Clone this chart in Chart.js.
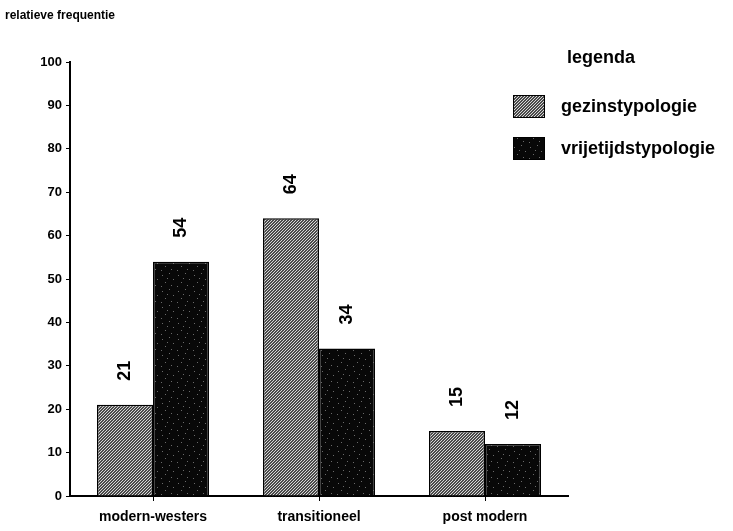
<!DOCTYPE html>
<html>
<head>
<meta charset="utf-8">
<script src="https://cdn.jsdelivr.net/npm/chart.js@4"></script>
<style>
  html, body { margin: 0; padding: 0; background: #fff; }
  #wrap { position: relative; width: 733px; height: 531px; }
</style>
</head>
<body>
<div id="wrap"><canvas id="chart" width="733" height="531"></canvas></div>
<script>
// gegevens
const categories = ['modern-westers', 'transitioneel', 'post modern'];
const seriesNames = ['gezinstypologie', 'vrijetijdstypologie'];
const gezinsValues = [21, 64, 15];
const vrijetijdValues = [54, 34, 12];
const yTicks = [0, 10, 20, 30, 40, 50, 60, 70, 80, 90, 100];

const FONT = '"Liberation Sans", Arial, sans-serif';

// arcering voor de grijze balken
function hatchPattern() {
    const c = document.createElement('canvas');
    c.width = 6; c.height = 6;
    const g = c.getContext('2d');
    g.fillStyle = '#4a4a4a';
    g.fillRect(0, 0, 6, 6);
    g.strokeStyle = '#d8d8d8';
    g.lineWidth = 1;
    for (let k = -6; k <= 12; k += 3) {
        g.beginPath();
        g.moveTo(k, 6);
        g.lineTo(k + 6, 0);
        g.stroke();
    }
    return g.createPattern(c, 'repeat');
}

// donker raster met stippen
function dotPattern() {
    const c = document.createElement('canvas');
    c.width = 16; c.height = 16;
    const g = c.getContext('2d');
    g.fillStyle = '#080808';
    g.fillRect(0, 0, 16, 16);
    g.fillStyle = '#6a6a6a';
    [[2, 3], [9, 1], [13, 7], [5, 10], [11, 13], [1, 14], [7, 6]].forEach(([x, y]) => g.fillRect(x, y, 1, 1));
    return g.createPattern(c, 'repeat');
}

const fills = [hatchPattern(), dotPattern()];

// waarden boven de balken, gedraaid
const valueLabels = {
    id: 'valueLabels',
    afterDatasetsDraw(chart) {
        const ctx = chart.ctx;
        ctx.save();
        ctx.font = 'bold 18px ' + FONT;
        ctx.fillStyle = '#000';
        ctx.textAlign = 'center';
        ctx.textBaseline = 'middle';
        chart.data.datasets.forEach((ds, i) => {
            chart.getDatasetMeta(i).data.forEach((bar, j) => {
                ctx.save();
                ctx.translate(bar.x, bar.y - 34);
                ctx.rotate(-Math.PI / 2);
                ctx.fillText(String(ds.data[j]), 0, 0);
                ctx.restore();
            });
        });
        ctx.restore();
    }
};

// legenda en astitel
const extras = {
    id: 'extras',
    afterDraw(chart) {
        const ctx = chart.ctx;
        ctx.save();
        ctx.fillStyle = '#000';
        ctx.textBaseline = 'middle';
        ctx.textAlign = 'left';
        ctx.font = 'bold 12px ' + FONT;
        ctx.fillText('relatieve frequentie', 5, 16);

        ctx.font = 'bold 18px ' + FONT;
        ctx.fillText('legenda', 567, 58);
        seriesNames.forEach((name, i) => {
            const y = 95 + i * 42;
            ctx.fillStyle = fills[i];
            ctx.fillRect(513, y, 32, 23);
            ctx.strokeStyle = '#000';
            ctx.lineWidth = 1;
            ctx.strokeRect(513.5, y + 0.5, 31, 22);
            ctx.fillStyle = '#000';
            ctx.fillText(name, 561, y + 12);
        });
        ctx.restore();
    }
};

new Chart(document.getElementById('chart'), {
    type: 'bar',
    data: {
        labels: categories,
        datasets: [
            { label: seriesNames[0], data: gezinsValues, backgroundColor: fills[0], borderColor: '#000', borderWidth: 1.5 },
            { label: seriesNames[1], data: vrijetijdValues, backgroundColor: fills[1], borderColor: '#000', borderWidth: 1.5 }
        ]
    },
    options: {
        responsive: false,
        animation: false,
        layout: { padding: { left: 0, top: 62, right: 165, bottom: 0 } },
        datasets: { bar: { categoryPercentage: 0.675, barPercentage: 1 } },
        plugins: { legend: { display: false }, tooltip: { enabled: false } },
        scales: {
            x: {
                afterFit: s => { s.height = 35; },
                grid: { display: true, offset: false, drawOnChartArea: false, tickLength: 5, color: '#000', lineWidth: 1 },
                border: { color: '#000', width: 2 },
                ticks: { color: '#000', font: { family: FONT, size: 14, weight: 'bold' }, padding: 8 }
            },
            y: {
                min: 0,
                max: 100,
                afterFit: s => { s.width = 70; },
                afterBuildTicks: s => { s.ticks = yTicks.map(v => ({ value: v })); },
                grid: { display: true, drawOnChartArea: false, tickLength: 4, color: '#000', lineWidth: 1 },
                border: { color: '#000', width: 2 },
                ticks: { color: '#000', font: { family: FONT, size: 13, weight: 'bold' }, padding: 4 }
            }
        }
    },
    plugins: [valueLabels, extras]
});
</script>
</body>
</html>
